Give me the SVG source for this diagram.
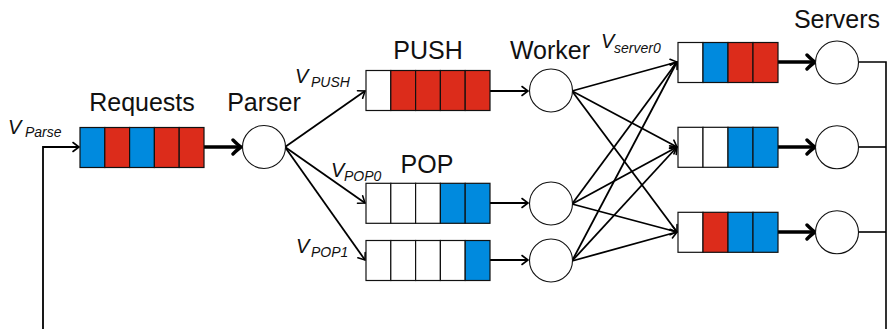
<svg xmlns="http://www.w3.org/2000/svg" width="890" height="329" viewBox="0 0 890 329">
  <style>
    .lbl { font-family: "Liberation Sans", Arial, sans-serif; font-size: 25px; fill: #111; text-anchor: middle; }
    .v { font-family: "Liberation Sans", Arial, sans-serif; font-style: italic; font-size: 20px; fill: #111; }
    .sub { font-family: "Liberation Sans", Arial, sans-serif; font-style: italic; font-size: 14px; fill: #111; }
    .cell { stroke: #111; stroke-width: 1.2; }
    .w { fill: #fff; }
    .r { fill: #dc2c1b; }
    .b { fill: #008ade; }
    .node { fill: #fff; stroke: #111; stroke-width: 1.1; }
    .thin { fill: none; stroke: #000; stroke-width: 1.8; marker-end: url(#tip); }
    .thick { fill: none; stroke: #000; stroke-width: 3.6; marker-end: url(#tipBold); }
    .wire { fill: none; stroke: #000; stroke-width: 1.6; }
  </style>
  <defs>
    <marker id="tip" markerUnits="userSpaceOnUse" viewBox="-8 -6 10 12" refX="0" refY="0" markerWidth="10" markerHeight="12" orient="auto">
      <path d="M -6 -4.5 Q -2 -1.5 0 0 Q -2 1.5 -6 4.5" fill="none" stroke="#000" stroke-width="1.6" stroke-linecap="round"/>
    </marker>
    <marker id="tipBold" markerUnits="userSpaceOnUse" viewBox="-11 -9 13 18" refX="0" refY="0" markerWidth="13" markerHeight="18" orient="auto">
      <path d="M -8 -7 Q -3 -2 0 0 Q -3 2 -8 7" fill="none" stroke="#000" stroke-width="3.4" stroke-linecap="round" stroke-linejoin="round"/>
    </marker>
  </defs>

  <!-- connectors -->
  <g id="connectors">
    <!-- feedback loop -->
    <path class="wire" d="M 858 62 H 886 V 329"/>
    <path class="wire" d="M 858 147 H 886"/>
    <path class="wire" d="M 858 232 H 886"/>
    <path class="thin" d="M 43 329 V 147 H 79"/>
    <!-- requests to parser -->
    <path class="thick" d="M 204 147 H 241"/>
    <!-- parser to queues -->
    <path class="thin" d="M 285 147 L 365 91"/>
    <path class="thin" d="M 285 147 L 365 203"/>
    <path class="thin" d="M 285 147 L 365 260"/>
    <!-- queues to workers -->
    <path class="thin" d="M 490 91 H 528"/>
    <path class="thin" d="M 490 203 H 528"/>
    <path class="thin" d="M 490 260 H 528"/>
    <!-- workers to server queues -->
    <path class="thin" d="M 572 91 L 677 62"/>
    <path class="thin" d="M 572 91 L 677 147"/>
    <path class="thin" d="M 572 91 L 677 232"/>
    <path class="thin" d="M 572 204 L 677 62"/>
    <path class="thin" d="M 572 204 L 677 147"/>
    <path class="thin" d="M 572 204 L 677 232"/>
    <path class="thin" d="M 572 261 L 677 62"/>
    <path class="thin" d="M 572 261 L 677 147"/>
    <path class="thin" d="M 572 261 L 677 232"/>
    <!-- server queues to servers -->
    <path class="thick" d="M 778 62 H 815"/>
    <path class="thick" d="M 778 147 H 815"/>
    <path class="thick" d="M 778 232 H 815"/>
  </g>

  <!-- request queue -->
  <g id="requests">
    <rect class="cell b" x="80" y="127.5" width="24.8" height="40"/>
    <rect class="cell r" x="104.8" y="127.5" width="24.8" height="40"/>
    <rect class="cell b" x="129.6" y="127.5" width="24.8" height="40"/>
    <rect class="cell r" x="154.4" y="127.5" width="24.8" height="40"/>
    <rect class="cell r" x="179.2" y="127.5" width="24.8" height="40"/>
    <text class="lbl" x="142" y="111">Requests</text>
    <text class="v" x="8" y="134">V</text>
    <text class="sub" x="25" y="137">Parse</text>
  </g>

  <g id="parser">
    <circle class="node" cx="264" cy="147" r="21.5"/>
    <text class="lbl" x="264" y="111">Parser</text>
  </g>

  <g id="push-queue">
    <rect class="cell w" x="366" y="70.5" width="24.8" height="40"/>
    <rect class="cell r" x="390.8" y="70.5" width="24.8" height="40"/>
    <rect class="cell r" x="415.6" y="70.5" width="24.8" height="40"/>
    <rect class="cell r" x="440.4" y="70.5" width="24.8" height="40"/>
    <rect class="cell r" x="465.2" y="70.5" width="24.8" height="40"/>
    <text class="lbl" x="428" y="59">PUSH</text>
    <text class="v" x="295" y="83">V</text>
    <text class="sub" x="311" y="87">PUSH</text>
  </g>

  <g id="pop0-queue">
    <rect class="cell w" x="366" y="183.3" width="24.8" height="40"/>
    <rect class="cell w" x="390.8" y="183.3" width="24.8" height="40"/>
    <rect class="cell w" x="415.6" y="183.3" width="24.8" height="40"/>
    <rect class="cell b" x="440.4" y="183.3" width="24.8" height="40"/>
    <rect class="cell b" x="465.2" y="183.3" width="24.8" height="40"/>
    <text class="lbl" x="427" y="173">POP</text>
    <text class="v" x="331" y="177">V</text>
    <text class="sub" x="344" y="181">POP0</text>
  </g>

  <g id="pop1-queue">
    <rect class="cell w" x="366" y="240.5" width="24.8" height="40"/>
    <rect class="cell w" x="390.8" y="240.5" width="24.8" height="40"/>
    <rect class="cell w" x="415.6" y="240.5" width="24.8" height="40"/>
    <rect class="cell w" x="440.4" y="240.5" width="24.8" height="40"/>
    <rect class="cell b" x="465.2" y="240.5" width="24.8" height="40"/>
    <text class="v" x="296" y="253">V</text>
    <text class="sub" x="311" y="257">POP1</text>
  </g>

  <g id="worker-0">
    <circle class="node" cx="551" cy="90.5" r="21.5"/>
    <text class="lbl" x="550" y="59">Worker</text>
  </g>
  <g id="worker-1">
    <circle class="node" cx="551" cy="203.5" r="21.5"/>
  </g>
  <g id="worker-2">
    <circle class="node" cx="551" cy="260.5" r="21.5"/>
  </g>

  <g id="server-queue-0">
    <rect class="cell w" x="678" y="42.5" width="25" height="40"/>
    <rect class="cell b" x="703" y="42.5" width="25" height="40"/>
    <rect class="cell r" x="728" y="42.5" width="25" height="40"/>
    <rect class="cell r" x="753" y="42.5" width="25" height="40"/>
    <text class="v" x="601" y="48">V</text>
    <text class="sub" x="614" y="53">server0</text>
  </g>
  <g id="server-queue-1">
    <rect class="cell w" x="678" y="127.3" width="25" height="40"/>
    <rect class="cell w" x="703" y="127.3" width="25" height="40"/>
    <rect class="cell b" x="728" y="127.3" width="25" height="40"/>
    <rect class="cell b" x="753" y="127.3" width="25" height="40"/>
  </g>
  <g id="server-queue-2">
    <rect class="cell w" x="678" y="212.3" width="25" height="40"/>
    <rect class="cell r" x="703" y="212.3" width="25" height="40"/>
    <rect class="cell b" x="728" y="212.3" width="25" height="40"/>
    <rect class="cell b" x="753" y="212.3" width="25" height="40"/>
  </g>

  <g id="server-0">
    <circle class="node" cx="837" cy="62.5" r="21.5"/>
    <text class="lbl" x="837" y="28">Servers</text>
  </g>
  <g id="server-1">
    <circle class="node" cx="837" cy="147.3" r="21.5"/>
  </g>
  <g id="server-2">
    <circle class="node" cx="837" cy="232.3" r="21.5"/>
  </g>
</svg>
